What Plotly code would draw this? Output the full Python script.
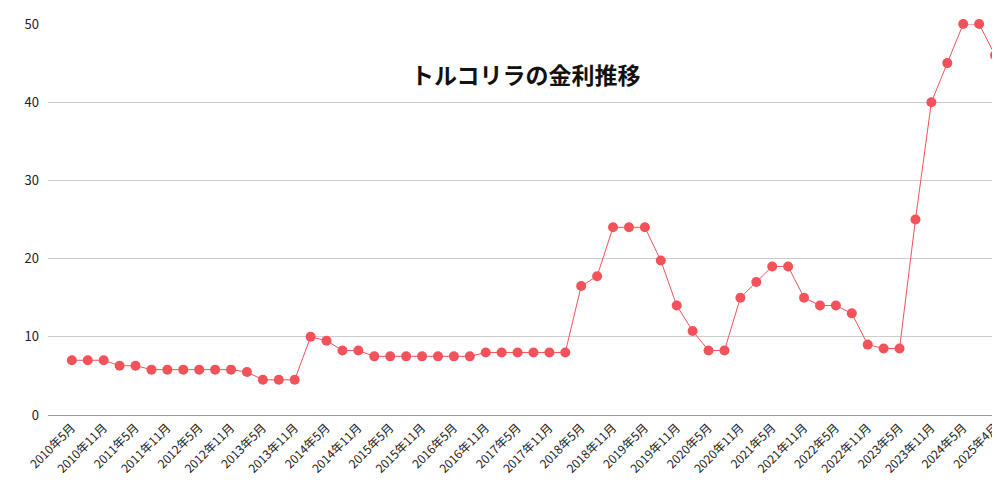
import plotly.graph_objects as go

months = []
y, m = 2010, 5
for _ in range(58):
    months.append(f"{y}年{m}月")
    m += 3
    if m > 12:
        m -= 12
        y += 1
months.append("2025年4月")

rates = [7, 7, 7, 6.3, 6.3, 5.8, 5.8, 5.8, 5.8, 5.8, 5.8, 5.5, 4.5, 4.5, 4.5,
         10, 9.5, 8.25, 8.25, 7.5, 7.5, 7.5, 7.5, 7.5, 7.5, 7.5, 8, 8, 8, 8, 8, 8,
         16.5, 17.75, 24, 24, 24, 19.75, 14, 10.75, 8.25, 8.25, 15, 17, 19, 19,
         15, 14, 14, 13, 9, 8.5, 8.5, 25, 40, 45, 50, 50, 46]

tickvals = months[::2]

fig = go.Figure(go.Scatter(
    x=months, y=rates, mode="lines+markers",
    line=dict(color="#f4525a", width=1),
    marker=dict(color="#f4525a", size=10),
    cliponaxis=False,
))
fig.update_layout(
    width=1000, height=500,
    margin=dict(l=40, r=5, t=16, b=93),
    plot_bgcolor="white", paper_bgcolor="white",
    font=dict(family="Noto Sans CJK JP", size=13, color="#222"),
    showlegend=False,
    annotations=[dict(text="<b>トルコリラの金利推移</b>", x=0.5, y=0.92,
                      xref="paper", yref="paper", showarrow=False,
                      font=dict(size=23, color="#111"), xanchor="center")],
)
fig.update_xaxes(type="category", tickvals=tickvals, ticktext=tickvals,
                 tickangle=-45, showgrid=False, showline=True, automargin=False,
                 linecolor="#999", range=[-1.5, 58.5], tickfont=dict(size=12))
fig.update_yaxes(range=[0, 50], dtick=10, gridcolor="#ccc", zeroline=False,
                 showline=False, ticks="", ticklabelstandoff=8, automargin=False)
fig.write_html("out.html")
